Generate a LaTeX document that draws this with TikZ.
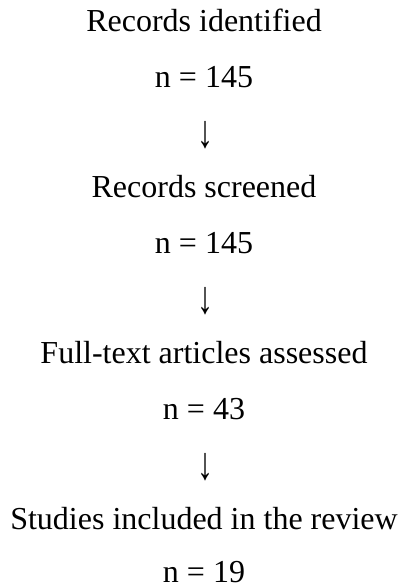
\documentclass[tikz,border=0pt]{standalone}
\usepackage{fontspec}
\usepackage{graphicx}
\setmainfont{Liberation Serif}
\tikzset{
  flowtext/.style={anchor=base, inner sep=0pt, font=\fontsize{24}{24}\selectfont},
  flowarrow/.style={flowtext},
}
\newcommand{\flowdown}{\raisebox{-3.5pt}{\scalebox{1}[1.45]{\char"2193}}}

\begin{document}
\begin{tikzpicture}[x=0.75pt,y=-0.75pt]
\useasboundingbox (0,0) rectangle (399,588);
\node[flowtext] (ident) at (204,32) {Records identified};
\node[flowtext] (identn) at (204,87.3) {n = 145};
\node[flowarrow] (arrowa) at (205,142.6) {\flowdown};
\node[flowtext] (screen) at (204,197.9) {Records screened};
\node[flowtext] (screenn) at (204,253.2) {n = 145};
\node[flowarrow] (arrowb) at (205,308.5) {\flowdown};
\node[flowtext] (full) at (204,363.8) {Full-text articles assessed};
\node[flowtext] (fulln) at (204,419.1) {n = 43};
\node[flowarrow] (arrowc) at (205,474.4) {\flowdown};
\node[flowtext] (incl) at (204,529.7) {Studies included in the review};
\node[flowtext] (incln) at (204,582.5) {n = 19};
\end{tikzpicture}
\end{document}
